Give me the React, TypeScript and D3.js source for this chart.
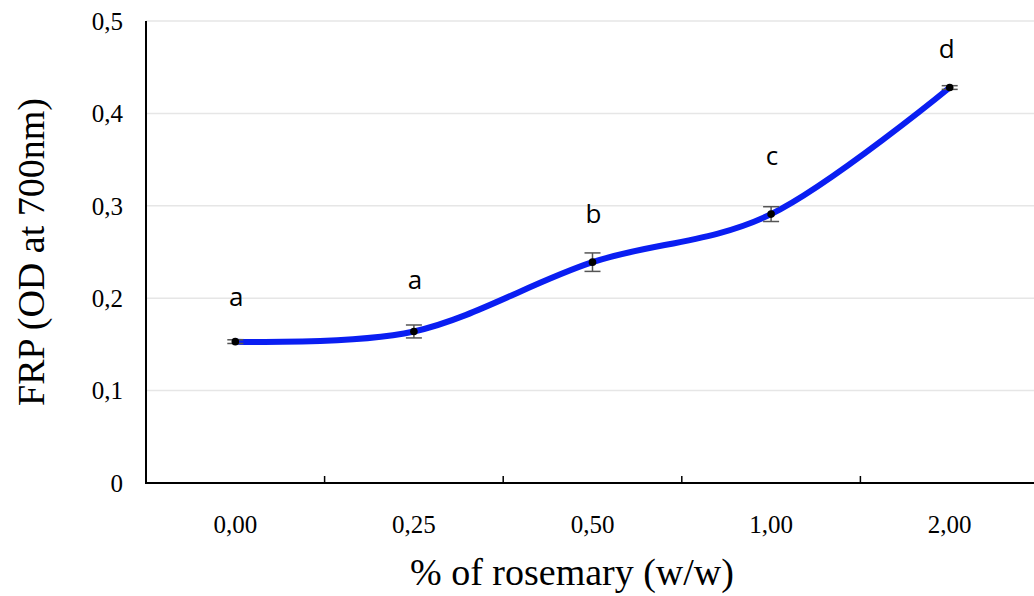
import React, { useEffect, useRef } from 'react';
import * as d3 from 'd3';

const categories = ["0,00", "0,25", "0,50", "1,00", "2,00"];
const frpValues = [0.153, 0.164, 0.239, 0.291, 0.428];
const frpErrors = [0.002, 0.007, 0.010, 0.008, 0.002];
const groupLetters = ["a", "a", "b", "c", "d"];
// height (in FRP units) where each letter's baseline sits
const letterLevels = [0.192, 0.210, 0.281, 0.344, 0.460];
const yTicks = [0, 0.1, 0.2, 0.3, 0.4, 0.5];

const W = 1034;
const H = 596;

export default function App() {
  const svgRef = useRef<SVGSVGElement>(null);

  useEffect(() => {
    const svg = d3.select(svgRef.current);
    svg.selectAll('*').remove();

    const left = 146, right = 1039, top = 21, bottom = 483;

    const x = d3.scaleBand().domain(categories).range([left, right]);
    const y = d3.scaleLinear().domain([0, 0.5]).range([bottom, top]);
    const cx = (i) => x(categories[i]) + x.bandwidth() / 2;

    // gridlines
    svg.append('g').selectAll('line').data(yTicks.slice(1))
      .enter().append('line')
        .attr('x1', left).attr('x2', W)
        .attr('y1', d => y(d)).attr('y2', d => y(d))
        .attr('stroke', '#e6e6e6').attr('stroke-width', 1.5);

    // y tick labels
    svg.append('g').selectAll('text').data(yTicks)
      .enter().append('text')
        .attr('x', 123)
        .attr('y', d => y(d))
        .attr('dy', '0.35em')
        .attr('text-anchor', 'end')
        .attr('font-family', '"Liberation Serif", serif')
        .attr('font-size', '25px')
        .text(d => d === 0 ? '0' : d3.format('.1f')(d).replace('.', ','));

    // axes lines
    svg.append('line')
      .attr('x1', left).attr('x2', left).attr('y1', top).attr('y2', bottom)
      .attr('stroke', '#000').attr('stroke-width', 2);
    svg.append('line')
      .attr('x1', left - 1).attr('x2', W).attr('y1', bottom).attr('y2', bottom)
      .attr('stroke', '#000').attr('stroke-width', 2);

    // x ticks between categories
    svg.append('g').selectAll('line').data(categories.slice(1))
      .enter().append('line')
        .attr('x1', d => x(d)).attr('x2', d => x(d))
        .attr('y1', bottom).attr('y2', bottom - 7)
        .attr('stroke', '#000').attr('stroke-width', 1.5);

    svg.append('g').selectAll('text').data(categories)
      .enter().append('text')
        .attr('x', (d, i) => cx(i))
        .attr('y', 533)
        .attr('text-anchor', 'middle')
        .attr('font-family', '"Liberation Serif", serif')
        .attr('font-size', '25px')
        .text(d => d);

    // smooth line
    const line = d3.line<number>()
      .x((d, i) => cx(i))
      .y(d => y(d))
      .curve(d3.curveCardinal.tension(0));
    svg.append('path')
      .attr('d', line(frpValues))
      .attr('fill', 'none')
      .attr('stroke', '#0a1ef2')
      .attr('stroke-width', 6)
      .attr('stroke-linecap', 'round');

    // error bars
    const eb = svg.append('g').attr('stroke', '#555').attr('stroke-width', 1.5);
    frpValues.forEach((v, i) => {
      const e = frpErrors[i];
      eb.append('line').attr('x1', cx(i)).attr('x2', cx(i)).attr('y1', y(v - e)).attr('y2', y(v + e));
      eb.append('line').attr('x1', cx(i) - 8).attr('x2', cx(i) + 8).attr('y1', y(v - e)).attr('y2', y(v - e));
      eb.append('line').attr('x1', cx(i) - 8).attr('x2', cx(i) + 8).attr('y1', y(v + e)).attr('y2', y(v + e));
    });

    svg.append('g').selectAll('circle').data(frpValues)
      .enter().append('circle')
        .attr('cx', (d, i) => cx(i))
        .attr('cy', d => y(d))
        .attr('r', 3.8)
        .attr('fill', '#000');

    // significance letters
    svg.append('g').selectAll('text').data(groupLetters)
      .enter().append('text')
        .attr('x', (d, i) => cx(i) + (i === 4 ? -3 : 1))
        .attr('y', (d, i) => y(letterLevels[i]))
        .attr('text-anchor', 'middle')
        .attr('font-family', '"Open Sans", sans-serif')
        .attr('font-size', '26px')
        .text(d => d);

    // axis titles
    svg.append('text')
      .attr('transform', 'translate(44,252) rotate(-90)')
      .attr('text-anchor', 'middle')
      .attr('font-family', '"Liberation Serif", serif')
      .attr('font-size', '38px')
      .text('FRP (OD at 700nm)');
    svg.append('text')
      .attr('x', 572).attr('y', 585)
      .attr('text-anchor', 'middle')
      .attr('font-family', '"Liberation Serif", serif')
      .attr('font-size', '38px')
      .text('% of rosemary (w/w)');
  }, []);

  return (
    <svg ref={svgRef} width={W} height={H}
         style={{ position: 'absolute', left: 0, top: 0, background: '#fff' }}>
    </svg>
  );
}
